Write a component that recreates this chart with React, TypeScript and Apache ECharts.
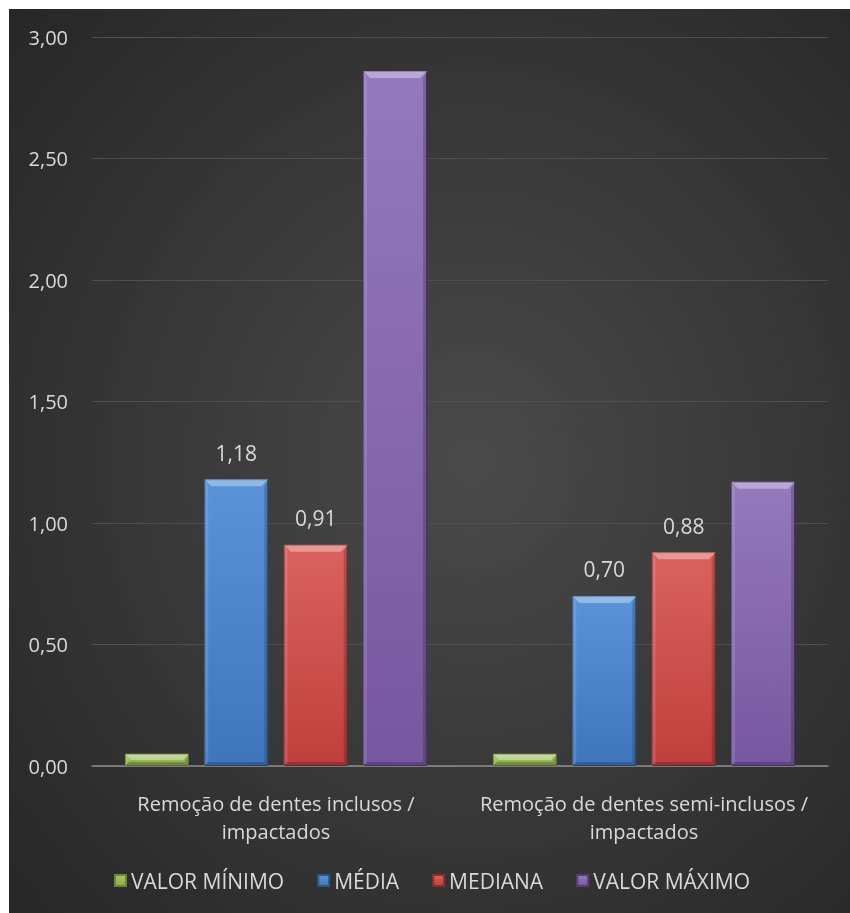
import React, { useEffect, useRef } from "react";
import * as echarts from "echarts";

const categories = [
  "Remoção de dentes inclusos / impactados",
  "Remoção de dentes semi-inclusos / impactados",
];
const seriesNames = ["VALOR MÍNIMO", "MÉDIA", "MEDIANA", "VALOR MÁXIMO"];
const valorMinimo = [0.05, 0.05];
const media = [1.18, 0.7];
const mediana = [0.91, 0.88];
const valorMaximo = [2.86, 1.17];
const yTicks = { min: 0, max: 3, interval: 0.5 };

const FONT = "'Open Sans', 'Noto Sans', sans-serif";
const TXT = "#d9d9d9";
const BAR_W = 64;
const GAP_RATIO = 0.24;

const fmt = (v: number) => v.toFixed(2).replace(".", ",");

function grad(top: string, bottom: string) {
  return new echarts.graphic.LinearGradient(0, 0, 0, 1, [
    { offset: 0, color: top },
    { offset: 1, color: bottom },
  ]);
}

const palette = [
  { top: "#a8c866", bottom: "#8aab48", border: "#6b8833" },
  { top: "#5b93d8", bottom: "#3f76bb", border: "#2c5688" },
  { top: "#d9625f", bottom: "#c03f3c", border: "#8a2d2b" },
  { top: "#9479bd", bottom: "#77579f", border: "#573c79" },
];

export default function App() {
  const ref = useRef<HTMLDivElement>(null);
  useEffect(() => {
    if (!ref.current) return;
    const chart = echarts.init(ref.current, null, { renderer: "svg" });
    const datasets = [valorMinimo, media, mediana, valorMaximo];
    const showLabel = [false, true, true, false];
    const n = seriesNames.length;
    const gap = BAR_W * GAP_RATIO;
    const total = n * BAR_W + (n - 1) * gap;

    const barSeries = seriesNames.map((name, i) => ({
      name,
      type: "bar",
      data: datasets[i],
      barWidth: BAR_W,
      barGap: GAP_RATIO * 100 + "%",
      itemStyle: {
        color: grad(palette[i].top, palette[i].bottom),
        borderColor: palette[i].border,
        borderWidth: 1,
      },
      label: {
        show: showLabel[i],
        position: "top",
        distance: 16,
        color: TXT,
        fontSize: 21,
        fontFamily: FONT,
        formatter: (p: any) => fmt(p.value),
      },
    }));

    const bevelSeries = seriesNames.map((name, i) => ({
      name: name + " bevel",
      type: "custom",
      z: 3,
      silent: true,
      data: datasets[i].map((v, k) => [k, v]),
      renderItem: (params: any, api: any) => {
        const cat = api.value(0);
        const val = api.value(1);
        const base = api.coord([cat, 0]);
        const top = api.coord([cat, val]);
        const x0 = base[0] - total / 2 + i * (BAR_W + gap);
        const x1 = x0 + BAR_W;
        const y0 = top[1];
        const y1 = base[1];
        const h = y1 - y0;
        const bt = Math.min(7, h / 2);
        const bs = Math.min(4, h / 2);
        return {
          type: "group",
          children: [
            {
              type: "polygon",
              shape: { points: [[x0, y0], [x1, y0], [x1 - bt, y0 + bt], [x0 + bt, y0 + bt]] },
              style: { fill: "rgba(255,255,255,0.35)" },
            },
            {
              type: "polygon",
              shape: { points: [[x0, y0], [x0 + bs, y0 + bt], [x0 + bs, y1 - bs], [x0, y1]] },
              style: { fill: "rgba(255,255,255,0.12)" },
            },
            {
              type: "polygon",
              shape: { points: [[x1, y0], [x1, y1], [x1 - bs, y1 - bs], [x1 - bs, y0 + bt]] },
              style: { fill: "rgba(0,0,0,0.18)" },
            },
            {
              type: "polygon",
              shape: { points: [[x0, y1], [x0 + bs, y1 - bs], [x1 - bs, y1 - bs], [x1, y1]] },
              style: { fill: "rgba(0,0,0,0.2)" },
            },
          ],
        };
      },
    }));

    chart.setOption({
      animation: false,
      backgroundColor: {
        type: "radial",
        x: 0.55,
        y: 0.5,
        r: 0.75,
        colorStops: [
          { offset: 0, color: "#4a4a4a" },
          { offset: 1, color: "#262626" },
        ],
      },
      textStyle: { fontFamily: FONT },
      grid: { left: 83, right: 22, top: 28, bottom: 147, containLabel: false },
      legend: {
        left: 100,
        top: 856,
        itemWidth: 11,
        itemHeight: 11,
        itemGap: 33,
        icon: "rect",
        textStyle: { color: TXT, fontSize: 21, fontFamily: FONT },
        data: seriesNames,
      },
      xAxis: {
        type: "category",
        data: categories,
        axisLine: { show: true, lineStyle: { color: "#8c8c8c", width: 1.5 } },
        axisTick: { show: false },
        axisLabel: {
          color: TXT,
          fontSize: 20,
          lineHeight: 28,
          margin: 23,
          interval: 0,
          formatter: (v: string) => v.replace(" impactados", "\nimpactados"),
        },
      },
      yAxis: {
        type: "value",
        min: yTicks.min,
        max: yTicks.max,
        interval: yTicks.interval,
        axisLine: { show: false },
        axisTick: { show: false },
        axisLabel: {
          color: TXT,
          fontSize: 20,
          margin: 24,
          formatter: (v: number) => fmt(v),
        },
        splitLine: { lineStyle: { color: "#4f4f4f", width: 1 } },
      },
      series: [...barSeries, ...bevelSeries],
    });
    return () => chart.dispose();
  }, []);
  return (
    <div
      ref={ref}
      style={{ position: "fixed", left: 9, top: 9, width: 841, height: 904 }}
    />
  );
}
